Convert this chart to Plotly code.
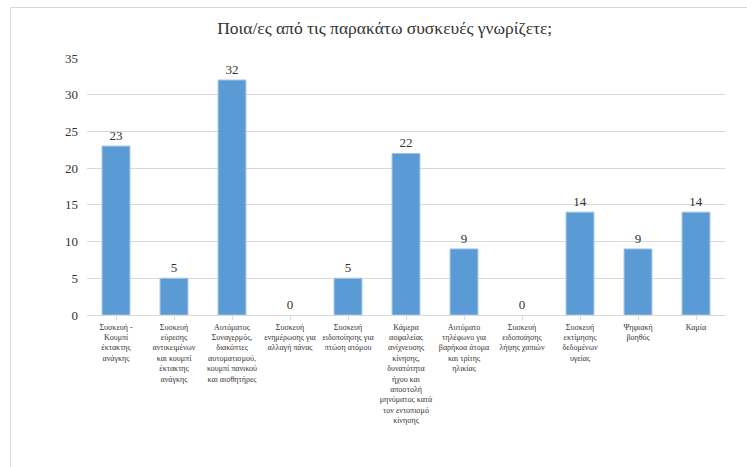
import plotly.graph_objects as go

categories = [
    "Συσκευή -<br>Κουμπί<br>έκτακτης<br>ανάγκης",
    "Συσκευή<br>εύρεσης<br>αντικειμένων<br>και κουμπί<br>έκτακτης<br>ανάγκης",
    "Αυτόματος<br>Συναγερμός,<br>διακόπτες<br>αυτοματισμού,<br>κουμπί πανικού<br>και αισθητήρες",
    "Συσκευή<br>ενημέρωσης για<br>αλλαγή πάνας",
    "Συσκευή<br>ειδοποίησης για<br>πτώση ατόμου",
    "Κάμερα<br>ασφαλείας<br>ανίχνευσης<br>κίνησης,<br>δυνατότητα<br>ήχου και<br>αποστολή<br>μηνύματος κατά<br>τον εντοπισμό<br>κίνησης",
    "Αυτόματο<br>τηλέφωνο για<br>βαρήκοα άτομα<br>και τρίτης<br>ηλικίας",
    "Συσκευή<br>ειδοποίησης<br>λήψης χαπιών",
    "Συσκευή<br>εκτίμησης<br>δεδομένων<br>υγείας",
    "Ψηφιακή<br>βοηθός",
    "Καμία",
]
values = [23, 5, 32, 0, 5, 22, 9, 0, 14, 9, 14]
y_ticks = [0, 5, 10, 15, 20, 25, 30, 35]
title_text = "Ποια/ες από τις παρακάτω συσκευές γνωρίζετε;"

SERIF = "Liberation Serif, Times New Roman, serif"
TXT = dict(family=SERIF, size=13, color="#333333")

fig = go.Figure(go.Bar(
    x=list(range(len(categories))),
    y=values,
    marker=dict(color="#5B9BD5",
                line=dict(color="#9DC3E6", width=[1 if v > 0 else 0 for v in values])),
    text=[str(v) for v in values],
    textposition="outside",
    cliponaxis=False,
    textfont=TXT,
    outsidetextfont=TXT,
    insidetextfont=TXT,
))

W, H = 747, 467
L, R, T, B = 87, 22, 58, 152
pw, ph = W - L - R, H - T - B

def px(x):
    return (x - L) / pw

def py(y):
    return (H - B - y) / ph

shapes = [
    dict(type="line", xref="paper", yref="paper", x0=px(10.5), x1=px(747), y0=py(7.5), y1=py(7.5),
         line=dict(color="#d9d9d9", width=1)),
    dict(type="line", xref="paper", yref="paper", x0=px(10.5), x1=px(10.5), y0=py(7.5), y1=py(467),
         line=dict(color="#d9d9d9", width=1)),
]

fig.update_layout(
    width=W, height=H,
    margin=dict(l=L, r=R, t=T, b=B, autoexpand=False),
    paper_bgcolor="white", plot_bgcolor="white",
    bargap=0.52,
    showlegend=False,
    title=dict(text=title_text, x=0.515, xanchor="center", y=1 - 28 / H, yanchor="middle",
               font=dict(family=SERIF, size=17.5, color="#333333")),
    xaxis=dict(
        tickmode="array", tickvals=list(range(len(categories))), ticktext=categories,
        range=[-0.5, len(categories) - 0.5],
        showline=True, linecolor="#d9d9d9", linewidth=1,
        ticks="outside", tickson="boundaries", ticklen=4, tickcolor="#d9d9d9",
        tickangle=0,
        tickfont=dict(family=SERIF, size=8, color="#333333"),
        showgrid=False,
    ),
    yaxis=dict(
        range=[0, 35], tickvals=y_ticks,
        showgrid=True, gridcolor="#d9d9d9", gridwidth=1,
        zeroline=False, showline=False,
        ticks="", ticklabelstandoff=8,
        tickfont=dict(family=SERIF, size=13, color="#333333"),
    ),
    shapes=shapes,
)

fig.write_html("out.html")
